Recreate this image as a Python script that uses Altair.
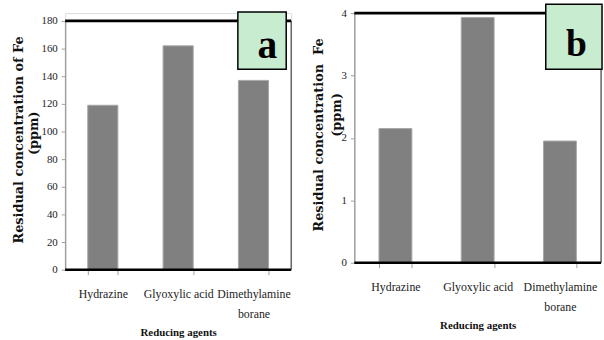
import altair as alt
import pandas as pd

# Reducing agents on the category axis
agents = ["Hydrazine", "Glyoxylic acid", "Dimethylamine borane"]

# Residual Fe concentration (ppm) for each agent
fe_a = [119, 162, 137]
fe_b = [2.15, 3.93, 1.95]

ticks_a = [0, 20, 40, 60, 80, 100, 120, 140, 160, 180]
ticks_b = [0, 1, 2, 3, 4]

# The unit line sits off-centre; a zero-width space keeps the padding
# non-breaking spaces from being trimmed away.
ZWSP = "\u200b"
NBSP = "\u00a0"
title_a = ["Residual concentration of Fe", ZWSP + NBSP * 3 + "(ppm)"]
title_b = ["Residual concentration " + NBSP + "Fe", ZWSP + NBSP * 9 + "(ppm)"]

SERIF = "Liberation Serif"
WIDE_SERIF = "DejaVu Serif"
BAR_GREY = "#808080"
BOX_GREEN = "#c8ecd0"


def panel(values, ticks, ytitle, letter, width, height, yrange,
          title_x, title_y, title_lh, box, letter_pos, letter_size):
    df = pd.DataFrame({"agent": agents, "fe": values})
    ymax = ticks[-1]

    x_enc = alt.X(
        "agent:N",
        sort=agents,
        scale=alt.Scale(paddingInner=0.6, paddingOuter=0.3),
        axis=alt.Axis(
            title="Reducing agents",
            titleFont=SERIF, titleFontSize=11, titleFontWeight="bold",
            titleColor="#111", titlePadding=8,
            labelFont=SERIF, labelFontSize=12, labelColor="#222",
            labelAngle=0, labelPadding=14, labelLineHeight=20,
            labelBaseline="top",
            labelExpr="datum.label == 'Dimethylamine borane' ? ['Dimethylamine', 'borane'] : datum.label",
            domain=False, ticks=True, tickBand="extent",
            tickColor="#a0a0a0", tickSize=5, tickWidth=1,
        ),
    )
    y_scale = alt.Scale(domain=[0, ymax], range=yrange, nice=False)
    y_axis = alt.Axis(
        title=ytitle, values=ticks, format="d", grid=False,
        labelOverlap=False, labelFlush=False,
        titleFont=WIDE_SERIF, titleFontSize=13, titleFontWeight="bold",
        titleColor="#111", titleLineHeight=title_lh,
        titleX=title_x, titleY=title_y, titleBaseline="top",
        titleAngle=270,
        labelFont=SERIF, labelFontSize=11, labelColor="#222",
        labelPadding=4,
        domainColor="#a0a0a0", domainWidth=1.5,
        tickColor="#a0a0a0", tickSize=4, tickWidth=1,
    )
    y_enc = alt.Y("fe:Q", scale=y_scale, axis=y_axis)

    bars = alt.Chart(df).mark_bar(
        color=BAR_GREY, stroke="#a8a8a8", strokeWidth=1
    ).encode(x=x_enc, y=y_enc)

    base = alt.Chart(pd.DataFrame({"k": [letter]}))
    right_edge = base.mark_rule(color="#222", strokeWidth=1).encode(
        x=alt.value(width),
        y=alt.YDatum(0, scale=y_scale, axis=y_axis),
        y2=alt.datum(ymax),
    )
    top_line = base.mark_rule(color="black", strokeWidth=2.8).encode(
        y=alt.YDatum(ymax, scale=y_scale, axis=y_axis)
    )
    zero_line = base.mark_rule(color="black", strokeWidth=2.5).encode(
        y=alt.YDatum(0, scale=y_scale, axis=y_axis)
    )
    label_box = base.mark_rect(
        fill=BOX_GREEN, stroke="black", strokeWidth=1.5
    ).encode(
        x=alt.value(box[0]), x2=alt.value(box[1]),
        y=alt.value(box[2]), y2=alt.value(box[3]),
    )
    label_text = base.mark_text(
        font=SERIF, fontWeight="bold", fontSize=letter_size,
        align="center", baseline="alphabetic", color="black",
    ).encode(
        x=alt.value(letter_pos[0]), y=alt.value(letter_pos[1]), text="k:N"
    )

    return alt.layer(
        bars, zero_line, top_line, right_edge, label_box, label_text
    ).properties(width=width, height=height)


panel_a = panel(
    fe_a, ticks_a, title_a, "a", 229, 260, [260, 8],
    title_x=-53, title_y=128, title_lh=15,
    box=[175, 224, -1, 57], letter_pos=[205, 46], letter_size=40,
)
panel_b = panel(
    fe_b, ticks_b, title_b, "b", 250, 253, [253, 0],
    title_x=-42, title_y=123, title_lh=18,
    box=[194, 251, -9, 57], letter_pos=[225, 43], letter_size=38,
)

chart = (
    alt.hconcat(panel_a, panel_b, spacing=19)
    .properties(padding={"left": 12, "top": 0, "right": 0, "bottom": 0})
    .configure_view(stroke=None)
    .configure_axisY(labelOverlap=False)
    .configure(background="white")
)

chart.save("out.html", embed_options={"renderer": "svg", "actions": False})
